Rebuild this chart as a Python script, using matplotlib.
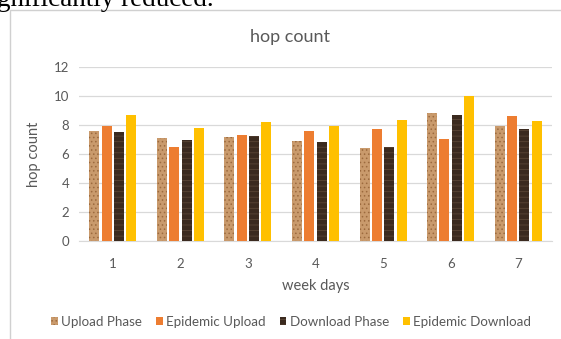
import matplotlib.pyplot as plt
import numpy as np
from matplotlib.patches import Rectangle

days = ['1', '2', '3', '4', '5', '6', '7']
upload_phase = [7.6, 7.1, 7.2, 6.9, 6.4, 8.8, 7.9]
epidemic_upload = [7.95, 6.45, 7.3, 7.6, 7.7, 7.05, 8.65]
download_phase = [7.55, 6.95, 7.25, 6.8, 6.5, 8.7, 7.7]
epidemic_download = [8.7, 7.8, 8.2, 7.9, 8.35, 10.0, 8.3]

series = [
    ('Upload Phase', upload_phase, '#c99a6c', '#9c6a3e', '....'),
    ('Epidemic Upload', epidemic_upload, '#ed7d31', '#ed7d31', None),
    ('Download Phase', download_phase, '#3b2a1f', '#5b4636', '---'),
    ('Epidemic Download', epidemic_download, '#ffc000', '#ffc000', None),
]

plt.rcParams['font.family'] = ['Lato', 'DejaVu Sans']
plt.rcParams['hatch.linewidth'] = 0.6
grey = '#595959'

fig = plt.figure(figsize=(5.61, 3.39), dpi=100)

# cropped line of the paper text above the chart
fig.text(-0.005, 1 - 6 / 339, 'gnificantly reduced.', family='Liberation Serif',
         fontsize=19.5, color='black', ha='left', va='baseline')

# chart frame
fig.patches.append(Rectangle((10 / 561, -0.05), 1.0, 1 - 10 / 339 + 0.05,
                             transform=fig.transFigure, fill=False,
                             edgecolor='#d0d0d0', linewidth=1.0))

ax = fig.add_axes([79 / 561, 1 - 241 / 339, 473 / 561, 174 / 339])

x = np.arange(len(days))
width = 0.148
step = 0.182
for i, (name, vals, fc, ec, hatch) in enumerate(series):
    ax.bar(x + (i - 1.5) * step, vals, width, color=fc, edgecolor=ec,
           linewidth=0, hatch=hatch, label=name, zorder=3)

ax.set_xlim(-0.5, len(days) - 0.5)
ax.set_ylim(0, 12)
ax.set_yticks(range(0, 13, 2))
ax.set_xticks(x)
ax.set_xticklabels(days)
ax.grid(axis='y', color='#d9d9d9', linewidth=0.9, zorder=0)
for s in ['top', 'right', 'left']:
    ax.spines[s].set_visible(False)
ax.spines['bottom'].set_color('#d9d9d9')
ax.tick_params(length=0, colors=grey, labelsize=9.5)
ax.tick_params(axis='x', pad=12)
ax.tick_params(axis='y', pad=7)

fig.text(290 / 561, 1 - 37 / 339, 'hop count', color=grey, fontsize=13,
         ha='center', va='center')
ax.set_xlabel('week days', color=grey, fontsize=10.5, labelpad=7)
ax.set_ylabel('hop count', color=grey, fontsize=10.5, labelpad=9)

ax.legend(loc='center', bbox_to_anchor=(291 / 561, 1 - 322 / 339), ncol=4,
          frameon=False, bbox_transform=fig.transFigure,
          fontsize=9.6, labelcolor=grey, handlelength=0.5, handleheight=0.5,
          handletextpad=0.25, columnspacing=1.05)

fig.savefig('out.png', dpi=100)
